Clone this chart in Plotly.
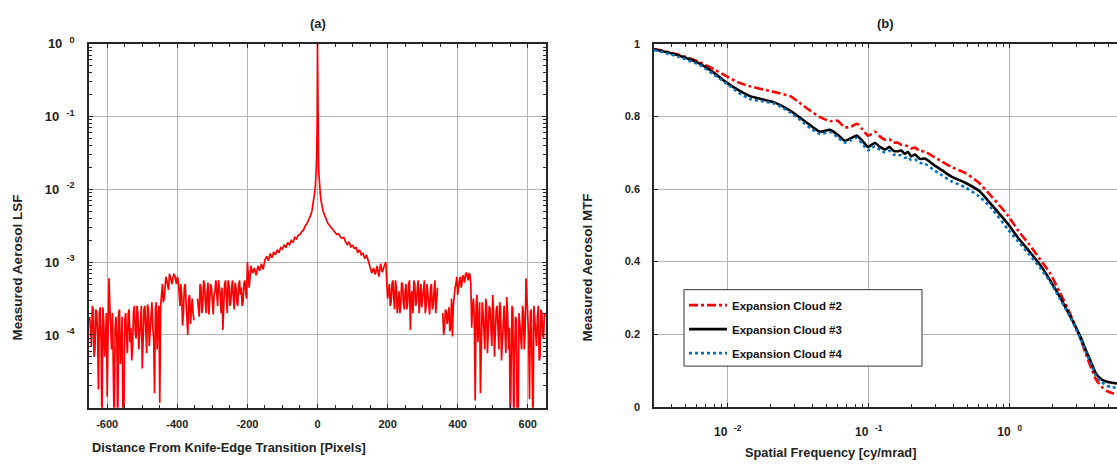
import numpy as np
import plotly.graph_objects as go

# ---------------- Panel (a): LSF ----------------
lsf_u_left = list(range(-650, -24, 5))
lsf_u_left_mid = [-647.5 + 5 * k for k in range(90)]        # -647.5 .. -202.5
lsf_u_core = [-20, -16, -13, -10, -8, -6, -5, -4, -3, -2, -1, 0, 1, 2, 3, 4, 5, 6, 8, 10, 13, 16, 20]
lsf_u_right = list(range(25, 651, 5))
lsf_u_right_mid = [202.5 + 5 * k for k in range(90)]        # 202.5 .. 647.5

# log10 of measured LSF (None = gap in the record)
lsf_log_left = [
    -3.75, -4.15, -3.65, -4.2, -3.7, -4.75, -3.62, -5.3, -3.8, -4.1,
    -4.85, -3.22, -4.05, -3.7, -5.3, -3.75, -5.4, -3.65, -4.2, -5.3, -3.8,
    -4.0, -3.7, -4.1, -4.35, -3.68, -3.95, -3.6, -4.2, -3.75, -4.46,
    -3.65, -4.0, -3.58, -4.15, -3.7, -3.9, -4.8, -3.55, -3.75, -4.93,
    -3.45, -3.55, -3.35, -3.25, -3.38, -3.2, -3.3, -3.17, -3.28, -3.2,
    -3.4, -3.3, -3.87, -3.35, -3.55, -4.0, -3.45, -3.6, -3.7, None, None,
    -3.6, -3.3, -3.7, -3.25, -3.55, -3.4, -3.72, -3.3, -3.65, -3.45,
    -3.25, -3.6, -3.35, -3.7, -3.93, -3.3, -3.5, -3.25, -3.6, -3.35,
    -3.5, -3.28, -3.55, -3.3, -3.45, -3.6, -3.3, -3.4,
    -3.0, -3.35, -3.05, -3.15, -3.08, -3.18, -3.05, -3.12, -3.02, -3.1,
    -2.97, -2.92, -2.98, -2.88, -2.94, -2.86, -2.9, -2.83, -2.87, -2.8,
    -2.82, -2.76, -2.8, -2.73, -2.76, -2.7, -2.73, -2.66, -2.68, -2.63,
    -2.62, -2.58, -2.56, -2.5, -2.47, -2.42,
]
lsf_log_left_mid = [
    -3.9, -3.6, -4.3, -3.65, -4.0, -3.7, -4.1, -3.62, -4.3, -3.7,
    -3.95, -3.6, -4.2, -5.3, -3.9, -4.05, -3.7, -4.4, -3.75, -5.2,
    -3.7, -4.25, -3.65, -3.9, -4.15, -3.6, -4.05, -3.7, -4.0, -3.6,
    -4.1, -3.6, -4.25, -3.65, -3.95, -3.55, -4.05, -3.65, -4.2, -3.6,
    -3.6, -3.3, -3.5, -3.2, -3.3, -3.16, -3.25, -3.22, -3.18, -3.3,
    -3.25, -3.6, -3.45, -3.7, -3.3, -3.75, -3.5, -3.85, -3.5, -3.8,
    None, -3.5, -3.75, -3.35, -3.6, -3.3, -3.7, -3.28, -3.55, -3.35,
    -3.72, -3.4, -3.5, -3.25, -3.45, -3.35, -3.6, -3.25, -3.7, -3.3,
    -3.55, -3.25, -3.65, -3.35, -3.6, -3.25, -3.35, -3.55, -3.25, -3.5,
]
lsf_log_core = [-2.36, -2.3, -2.22, -2.13, -2.04, -1.95, -1.88, -1.78, -1.65, -1.45, -1.1, 0.0,
                -1.1, -1.45, -1.65, -1.78, -1.88, -1.96, -2.06, -2.15, -2.24, -2.3, -2.35]
lsf_log_right = [
    -2.42, -2.47, -2.5, -2.53, -2.56, -2.58, -2.62, -2.61, -2.65, -2.67,
    -2.66, -2.72, -2.76, -2.72, -2.79, -2.77, -2.81, -2.8, -2.87, -2.83,
    -2.9, -2.88, -2.95, -2.9, -2.98, -3.05, -3.15, -3.08, -3.17, -3.05,
    -3.2, -3.02, -3.14, -3.06, -3.0, -3.5,
    -3.3, -3.55, -3.25, -3.65, -3.35, -3.45, -3.7, -3.28, -3.55, -3.4,
    -3.65, -3.3, -3.93, -3.4, -3.25, -3.6, -3.35, -3.7, -3.3, -3.5,
    -3.25, -3.6, -3.45, -3.72, -3.3, -3.6, -3.25, -3.5, None, None, None,
    -4.0, -3.65, -3.85, -3.62, -3.9, -4.02, -3.4, -3.3, -3.45, -3.25,
    -3.35, -3.18, -3.28, -3.15, -3.25, -3.17, -3.9,
    -3.5, -4.9, -3.45, -3.8, -4.8, -3.55, -4.1, -3.5, -4.25, -3.6,
    -3.95, -3.45, -4.3, -3.65, -4.0, -3.55, -4.35, -3.7, -3.95, -3.48,
    -4.2, -5.3, -3.6, -5.4, -3.75, -5.3, -3.7, -4.1, -3.6, -4.2,
    -3.22, -3.9, -4.88, -3.65, -5.3, -3.8, -4.15, -3.6, -4.3, -3.7,
    -4.05, -3.75,
]
lsf_log_right_mid = [
    -3.4, -3.6, -3.3, -3.5, -3.25, -3.7, -3.4, -3.6, -3.3, -3.65,
    -3.3, -3.55, -3.25, -3.45, -3.7, -3.3, -3.55, -3.25, -3.5, -3.62,
    -3.4, -3.7, -3.3, -3.55, -3.35, -3.65, -3.4, -3.7, -3.35, None,
    None, -3.7, -3.9, -3.68, -3.75, -3.95, -3.5, -3.6, -3.35, -3.2,
    -3.3, -3.2, -3.28, -3.22, -3.16, -3.2, -3.15, -3.3, -3.6, -3.8,
    -3.6, -4.1, -3.55, -4.0, -3.7, -4.2, -3.6, -3.9, -3.65, -4.15,
    -3.7, -3.95, -3.6, -4.2, -3.65, -4.0, -3.6, -4.25, -3.7, -3.9,
    -4.1, -3.65, -4.3, -3.8, -5.25, -3.9, -4.2, -3.7, -3.95, -3.5,
    -4.0, -3.7, -4.2, -3.6, -4.1, -3.75, -4.35, -3.65, -4.0, -3.7,
]

# ---------------- Panel (b): MTF ----------------
freq = [0.0030, 0.0045, 0.00637, 0.0080, 0.0100, 0.0120, 0.0144, 0.0180, 0.0216, 0.0277,
        0.0330, 0.0384, 0.0452, 0.0532, 0.0600, 0.0679, 0.0750, 0.0826, 0.0900, 0.0989,
        0.1050, 0.1109, 0.1200, 0.1306, 0.1400, 0.1500, 0.1600, 0.1700, 0.1800, 0.1900,
        0.2000, 0.2130, 0.2300, 0.2500, 0.2858, 0.3300, 0.3837, 0.4800, 0.6058, 0.7500,
        0.9663, 1.150, 1.371, 1.650, 1.932, 2.250, 2.592, 2.906, 3.200, 3.477,
        3.800, 4.095, 4.500, 4.903, 5.300, 5.770]
mtf_cloud2 = [0.986, 0.970, 0.949, 0.930, 0.909, 0.893, 0.883, 0.874, 0.867, 0.856,
              0.835, 0.816, 0.798, 0.787, 0.788, 0.770, 0.772, 0.780, 0.765, 0.747,
              0.752, 0.758, 0.745, 0.736, 0.738, 0.728, 0.728, 0.722, 0.720, 0.718,
              0.712, 0.714, 0.705, 0.703, 0.690, 0.676, 0.661, 0.645, 0.617, 0.578,
              0.528, 0.485, 0.448, 0.405, 0.368, 0.318, 0.269, 0.224, 0.183, 0.144,
              0.105, 0.075, 0.055, 0.043, 0.038, 0.035]
mtf_cloud3 = [0.985, 0.968, 0.945, 0.920, 0.891, 0.872, 0.856, 0.846, 0.838, 0.816,
              0.795, 0.776, 0.758, 0.763, 0.750, 0.733, 0.740, 0.747, 0.733, 0.716,
              0.722, 0.727, 0.716, 0.709, 0.716, 0.705, 0.704, 0.706, 0.697, 0.702,
              0.690, 0.695, 0.683, 0.684, 0.668, 0.652, 0.635, 0.618, 0.595, 0.555,
              0.505, 0.465, 0.429, 0.390, 0.349, 0.305, 0.261, 0.224, 0.190, 0.155,
              0.120, 0.091, 0.075, 0.069, 0.066, 0.064]
mtf_cloud4 = [0.983, 0.964, 0.941, 0.915, 0.888, 0.865, 0.848, 0.841, 0.835, 0.811,
              0.789, 0.768, 0.752, 0.757, 0.743, 0.728, 0.735, 0.741, 0.725, 0.707,
              0.713, 0.718, 0.708, 0.701, 0.705, 0.695, 0.694, 0.693, 0.686, 0.688,
              0.680, 0.681, 0.672, 0.670, 0.654, 0.638, 0.622, 0.605, 0.580, 0.545,
              0.490, 0.455, 0.420, 0.382, 0.345, 0.300, 0.258, 0.220, 0.185, 0.150,
              0.115, 0.085, 0.068, 0.058, 0.054, 0.052]
legend_names = ["Expansion Cloud #2", "Expansion Cloud #3", "Expansion Cloud #4"]

lsf_x_ticks = [-600, -400, -200, 0, 200, 400, 600]
lsf_y_exps = [-4, -3, -2, -1, 0]
mtf_x_exps = [-2, -1, 0]
mtf_y_ticks = [0, 0.2, 0.4, 0.6, 0.8, 1]
mtf_y_text = ["0", "0.2", "0.4", "0.6", "0.8", "1"]

FONT = "Liberation Sans, Arial, sans-serif"
GRID = "#b4b4b4"
AX = "#262626"

pairs = sorted(zip(lsf_u_left + lsf_u_left_mid + lsf_u_core + lsf_u_right + lsf_u_right_mid,
                   lsf_log_left + lsf_log_left_mid + lsf_log_core + lsf_log_right + lsf_log_right_mid),
               key=lambda p: p[0])
lsf_u = [p[0] for p in pairs]
lsf_val = [None if p[1] is None else 10 ** p[1] for p in pairs]

fig = go.Figure()
fig.add_trace(go.Scatter(x=lsf_u, y=lsf_val, mode="lines", line=dict(color="#ff0000", width=1.7),
                         showlegend=False, connectgaps=False, xaxis="x", yaxis="y"))

styles = [dict(color="#ff0000", width=2.6, dash="dashdot"),
          dict(color="#000000", width=2.6, dash="solid"),
          dict(color="#0072BD", width=2.6, dash="dot")]
for i, (name, ys) in enumerate(zip(legend_names, [mtf_cloud2, mtf_cloud3, mtf_cloud4])):
    fig.add_trace(go.Scatter(x=freq, y=ys, mode="lines", name=name,
                             line=dict(**styles[i], shape="spline", smoothing=0.6),
                             legendgroup=f"g{i}", xaxis="x2", yaxis="y2"))


def minor_log(lo, hi):
    vals = []
    for e in range(lo, hi + 1):
        for m in range(2, 10):
            vals.append(m * 10.0 ** e)
    return vals


def sup(e):
    return f"10\u00a0\u00a0<sup>{e}</sup>"


def tf(size):
    return dict(family=FONT, size=size, color="#222", weight="bold")


fig.update_layout(
    width=1117, height=466,
    margin=dict(l=0, r=0, t=0, b=0),
    paper_bgcolor="white", plot_bgcolor="white",
    font=dict(family=FONT, color="#222"),
    xaxis=dict(domain=[89 / 1117, 546 / 1117], range=[-652, 652], anchor="y",
               tickvals=lsf_x_ticks, ticktext=[str(t) for t in lsf_x_ticks],
               ticks="inside", ticklen=4, tickcolor=AX, tickfont=tf(11), ticklabelstandoff=5,
               showline=True, linecolor=AX, linewidth=1.5, mirror="ticks",
               showgrid=True, gridcolor=GRID, gridwidth=1, zeroline=False,
               minor=dict(dtick=50, ticks="inside", ticklen=3, tickcolor=AX, showgrid=False)),
    yaxis=dict(domain=[(466 - 412) / 466, (466 - 36) / 466], type="log", range=[-5, 0], anchor="x",
               tickvals=[10.0 ** e for e in lsf_y_exps], ticktext=[sup(e) for e in lsf_y_exps],
               ticks="inside", ticklen=4, tickcolor=AX, tickfont=tf(13), ticklabelstandoff=10,
               showline=True, linecolor=AX, linewidth=1.5, mirror="ticks",
               showgrid=True, gridcolor=GRID, gridwidth=1, zeroline=False,
               minor=dict(tickvals=minor_log(-5, -1), ticks="inside", ticklen=3, tickcolor=AX, showgrid=False)),
    xaxis2=dict(domain=[654 / 1117, 1.0], type="log", range=[np.log10(0.003), 0.761], anchor="y2",
                tickvals=[10.0 ** e for e in mtf_x_exps], ticktext=[sup(e) for e in mtf_x_exps],
                ticks="inside", ticklen=4, tickcolor=AX, tickfont=tf(12), ticklabelstandoff=13,
                showline=True, linecolor=AX, linewidth=1.5, mirror="ticks",
                showgrid=True, gridcolor=GRID, gridwidth=1, zeroline=False,
                minor=dict(tickvals=minor_log(-3, 0), ticks="inside", ticklen=3, tickcolor=AX, showgrid=False)),
    yaxis2=dict(domain=[(466 - 411) / 466, (466 - 36) / 466], range=[0, 1], anchor="x2",
                tickvals=mtf_y_ticks, ticktext=mtf_y_text,
                ticks="inside", ticklen=4, tickcolor=AX, tickfont=tf(11), ticklabelstandoff=10,
                showline=True, linecolor=AX, linewidth=1.5, mirror=False,
                showgrid=True, gridcolor=GRID, gridwidth=1, zeroline=False),
    legend=dict(x=684 / 1117, y=(466 - 291) / 466, xanchor="left", yanchor="top",
                bgcolor="rgba(0,0,0,0)", borderwidth=0,
                font=dict(family=FONT, size=11.5, color="#111", weight="bold"),
                traceorder="grouped", tracegroupgap=5, itemwidth=38),
)

# legend frame
fig.add_shape(type="rect", xref="paper", yref="paper",
              x0=684 / 1117, x1=922 / 1117, y0=(466 - 369) / 466, y1=(466 - 290) / 466,
              line=dict(color="#333", width=1), fillcolor="white", layer="above")

ann = dict(xref="paper", yref="paper", showarrow=False)
fig.add_annotation(x=318 / 1117, y=(466 - 15) / 466, text="(a)", xanchor="center", yanchor="middle",
                   font=tf(13), **ann)
fig.add_annotation(x=885 / 1117, y=(466 - 15) / 466, text="(b)", xanchor="center", yanchor="middle",
                   font=tf(13), **ann)
fig.add_annotation(x=90 / 1117, y=(466 - 453) / 466, text="Distance From Knife-Edge Transition [Pixels]",
                   xanchor="left", yanchor="middle", font=tf(12.8), **ann)
fig.add_annotation(x=830 / 1117, y=(466 - 458) / 466, text="Spatial Frequency [cy/mrad]",
                   xanchor="center", yanchor="middle", font=tf(12.8), **ann)
fig.add_annotation(x=17 / 1117, y=(466 - 267) / 466, text="Measured Aerosol LSF", textangle=-90,
                   xanchor="center", yanchor="middle", font=tf(13.5), **ann)
fig.add_annotation(x=587 / 1117, y=(466 - 267) / 466, text="Measured Aerosol MTF", textangle=-90,
                   xanchor="center", yanchor="middle", font=tf(13.5), **ann)

fig.write_html("out.html")
